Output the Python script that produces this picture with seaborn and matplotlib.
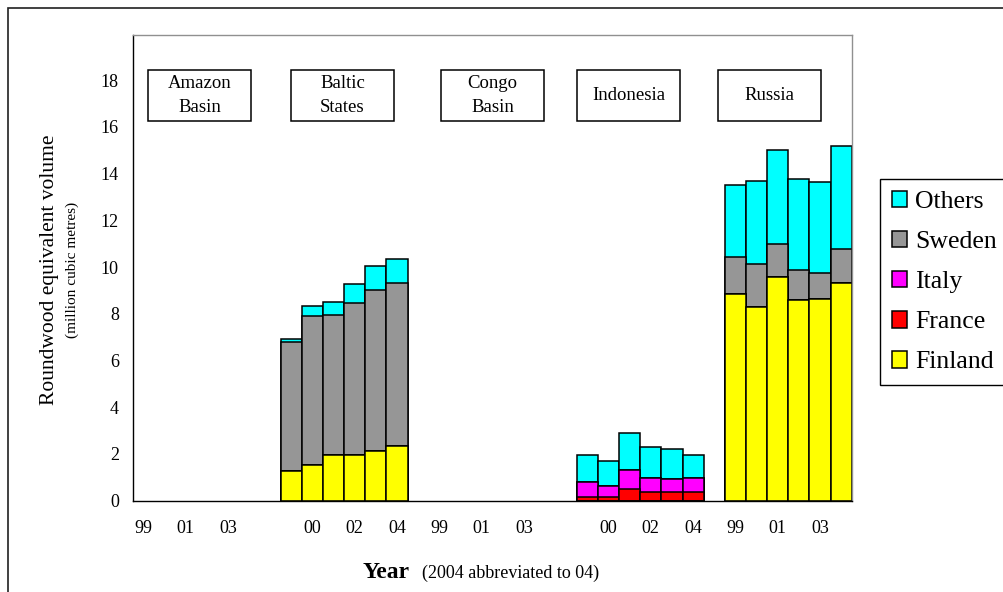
import numpy as np
import pandas as pd
import matplotlib
matplotlib.use("Agg")
import matplotlib.pyplot as plt
import seaborn as sns
from matplotlib.patches import Patch, Rectangle

# ---------------- data ----------------
regions = ["Amazon\nBasin", "Baltic\nStates", "Congo\nBasin", "Indonesia", "Russia"]
years = ["99", "00", "01", "02", "03", "04"]
series = ["Finland", "France", "Italy", "Sweden", "Others"]  # bottom -> top

finland_baltic = [1.28, 1.54, 1.95, 1.95, 2.11, 2.36]
sweden_baltic = [5.53, 6.37, 6.01, 6.50, 6.89, 6.97]
others_baltic = [0.13, 0.41, 0.56, 0.82, 1.03, 1.03]

france_indonesia = [0.17, 0.17, 0.50, 0.38, 0.38, 0.38]
italy_indonesia = [0.61, 0.47, 0.82, 0.60, 0.53, 0.60]
others_indonesia = [1.19, 1.04, 1.59, 1.33, 1.31, 0.99]

finland_russia = [8.83, 8.30, 9.59, 8.59, 8.63, 9.32]
sweden_russia = [1.58, 1.84, 1.38, 1.27, 1.10, 1.45]
others_russia = [3.09, 3.56, 4.03, 3.90, 3.90, 4.43]

region_values = {
    "Amazon\nBasin": None,
    "Baltic\nStates": {"Finland": finland_baltic, "Sweden": sweden_baltic, "Others": others_baltic},
    "Congo\nBasin": None,
    "Indonesia": {"France": france_indonesia, "Italy": italy_indonesia, "Others": others_indonesia},
    "Russia": {"Finland": finland_russia, "Sweden": sweden_russia, "Others": others_russia},
}

x_tick_labels = ["99", "", "01", "", "03", "", "",
                 "", "00", "", "02", "", "04", "",
                 "99", "", "01", "", "03", "", "",
                 "", "00", "", "02", "", "04", "",
                 "99", "", "01", "", "03", ""]

y_ticks = [0, 2, 4, 6, 8, 10, 12, 14, 16, 18]

# ---------------- styles / layout ----------------
colors = {"Finland": "#FFFF00", "France": "#FF0000", "Italy": "#FF00FF",
          "Sweden": "#969696", "Others": "#00FFFF"}
n_slots = 34
box_centers = [2.68, 9.42, 16.51, 22.96, 29.63]
box_width = 4.87
box_y0, box_y1 = 16.25, 18.43

# ---------------- build table ----------------
rows = []
for g, reg in enumerate(regions):
    vals = region_values[reg]
    for i, yr in enumerate(years):
        row = {"slot": g * 7 + i, "region": reg, "year": yr}
        for s in series:
            if vals is None:
                row[s] = np.nan
            else:
                row[s] = vals.get(s, [0] * 6)[i]
        rows.append(row)
df = pd.DataFrame(rows)
cum = df[series].cumsum(axis=1)
for s in series:
    df["cum_" + s] = cum[s]

# ---------------- plot ----------------
sns.set_style("white")
plt.rcParams["font.family"] = ["Liberation Serif", "DejaVu Serif"]
plt.rcParams["text.color"] = "black"
plt.rcParams["axes.labelcolor"] = "black"
plt.rcParams["xtick.color"] = "black"
plt.rcParams["ytick.color"] = "black"

fig = plt.figure(figsize=(10.04, 5.92), dpi=100)
ax = fig.add_axes([132.7 / 1004, (592 - 500.7) / 592, 719 / 1004, 465.7 / 592])

order = list(range(n_slots))
for s in reversed(series):
    sns.barplot(data=df, x="slot", y="cum_" + s, order=order, color=colors[s],
                saturation=1, width=1, edgecolor="black", linewidth=1.1,
                errorbar=None, ax=ax, zorder=2)

ax.set_xlim(-0.5, n_slots - 0.5)
ax.set_ylim(0, 19.93)

# ticks
ax.set_yticks(y_ticks)
ax.set_yticklabels([str(v) for v in y_ticks], fontsize=13)
ax.set_xticks(np.arange(-0.5, n_slots, 1.0))
ax.set_xticklabels([])
ax.set_xticks(np.arange(n_slots), minor=True)
ax.set_xticklabels(x_tick_labels, minor=True, fontsize=13)
ax.tick_params(axis="x", which="major", direction="out", length=6, width=1, color="#404040")
ax.tick_params(axis="x", which="minor", length=0, pad=14)
ax.tick_params(axis="y", direction="out", length=6, width=1, color="#404040", pad=4)
ax.set_xlabel("")
ax.set_ylabel("")

for side in ["top", "right"]:
    ax.spines[side].set_visible(True)
    ax.spines[side].set_color("#909090")
    ax.spines[side].set_linewidth(1)
for side in ["left", "bottom"]:
    ax.spines[side].set_color("black")
    ax.spines[side].set_linewidth(1)
ax.spines["bottom"].set_zorder(5)

# region boxes
for reg, cx in zip(regions, box_centers):
    ax.add_patch(Rectangle((cx - box_width / 2, box_y0), box_width, box_y1 - box_y0,
                           facecolor="white", edgecolor="black", linewidth=1.1, zorder=4))
    ax.text(cx, (box_y0 + box_y1) / 2, reg, ha="center", va="center", fontsize=13.5,
            linespacing=1.6, zorder=5)

# axis labels
fig.text(50 / 1004, 1 - 270 / 592, "Roundwood equivalent volume", rotation=90,
         ha="center", va="center", fontsize=15.5)
fig.text(72 / 1004, 1 - 270 / 592, "(million cubic metres)", rotation=90,
         ha="center", va="center", fontsize=11)
fig.text(410 / 1004, 1 - 573 / 592, "Year", ha="right", va="center",
         fontsize=17, fontweight="bold")
fig.text(422 / 1004, 1 - 573 / 592, "(2004 abbreviated to 04)", ha="left", va="center",
         fontsize=13)

# legend
handles = [Patch(facecolor=colors[s], edgecolor="black", linewidth=1.1, label=s)
           for s in reversed(series)]
leg = fig.legend(handles=handles, loc="upper left",
                 bbox_to_anchor=(880 / 1004, 1 - 179 / 592), fontsize=18.5,
                 frameon=True, fancybox=False, edgecolor="black", framealpha=1,
                 borderaxespad=0, handlelength=0.62, handleheight=0.62,
                 handletextpad=0.3, labelspacing=0.69, borderpad=0.45)
leg.get_frame().set_linewidth(1)

# outer border
fig.add_artist(Rectangle((8 / 1004, -0.05), 1.2, 1 - 8 / 592 + 0.05,
                         transform=fig.transFigure, fill=False,
                         edgecolor="#202020", linewidth=1.2))

fig.savefig("out.png", dpi=100)
